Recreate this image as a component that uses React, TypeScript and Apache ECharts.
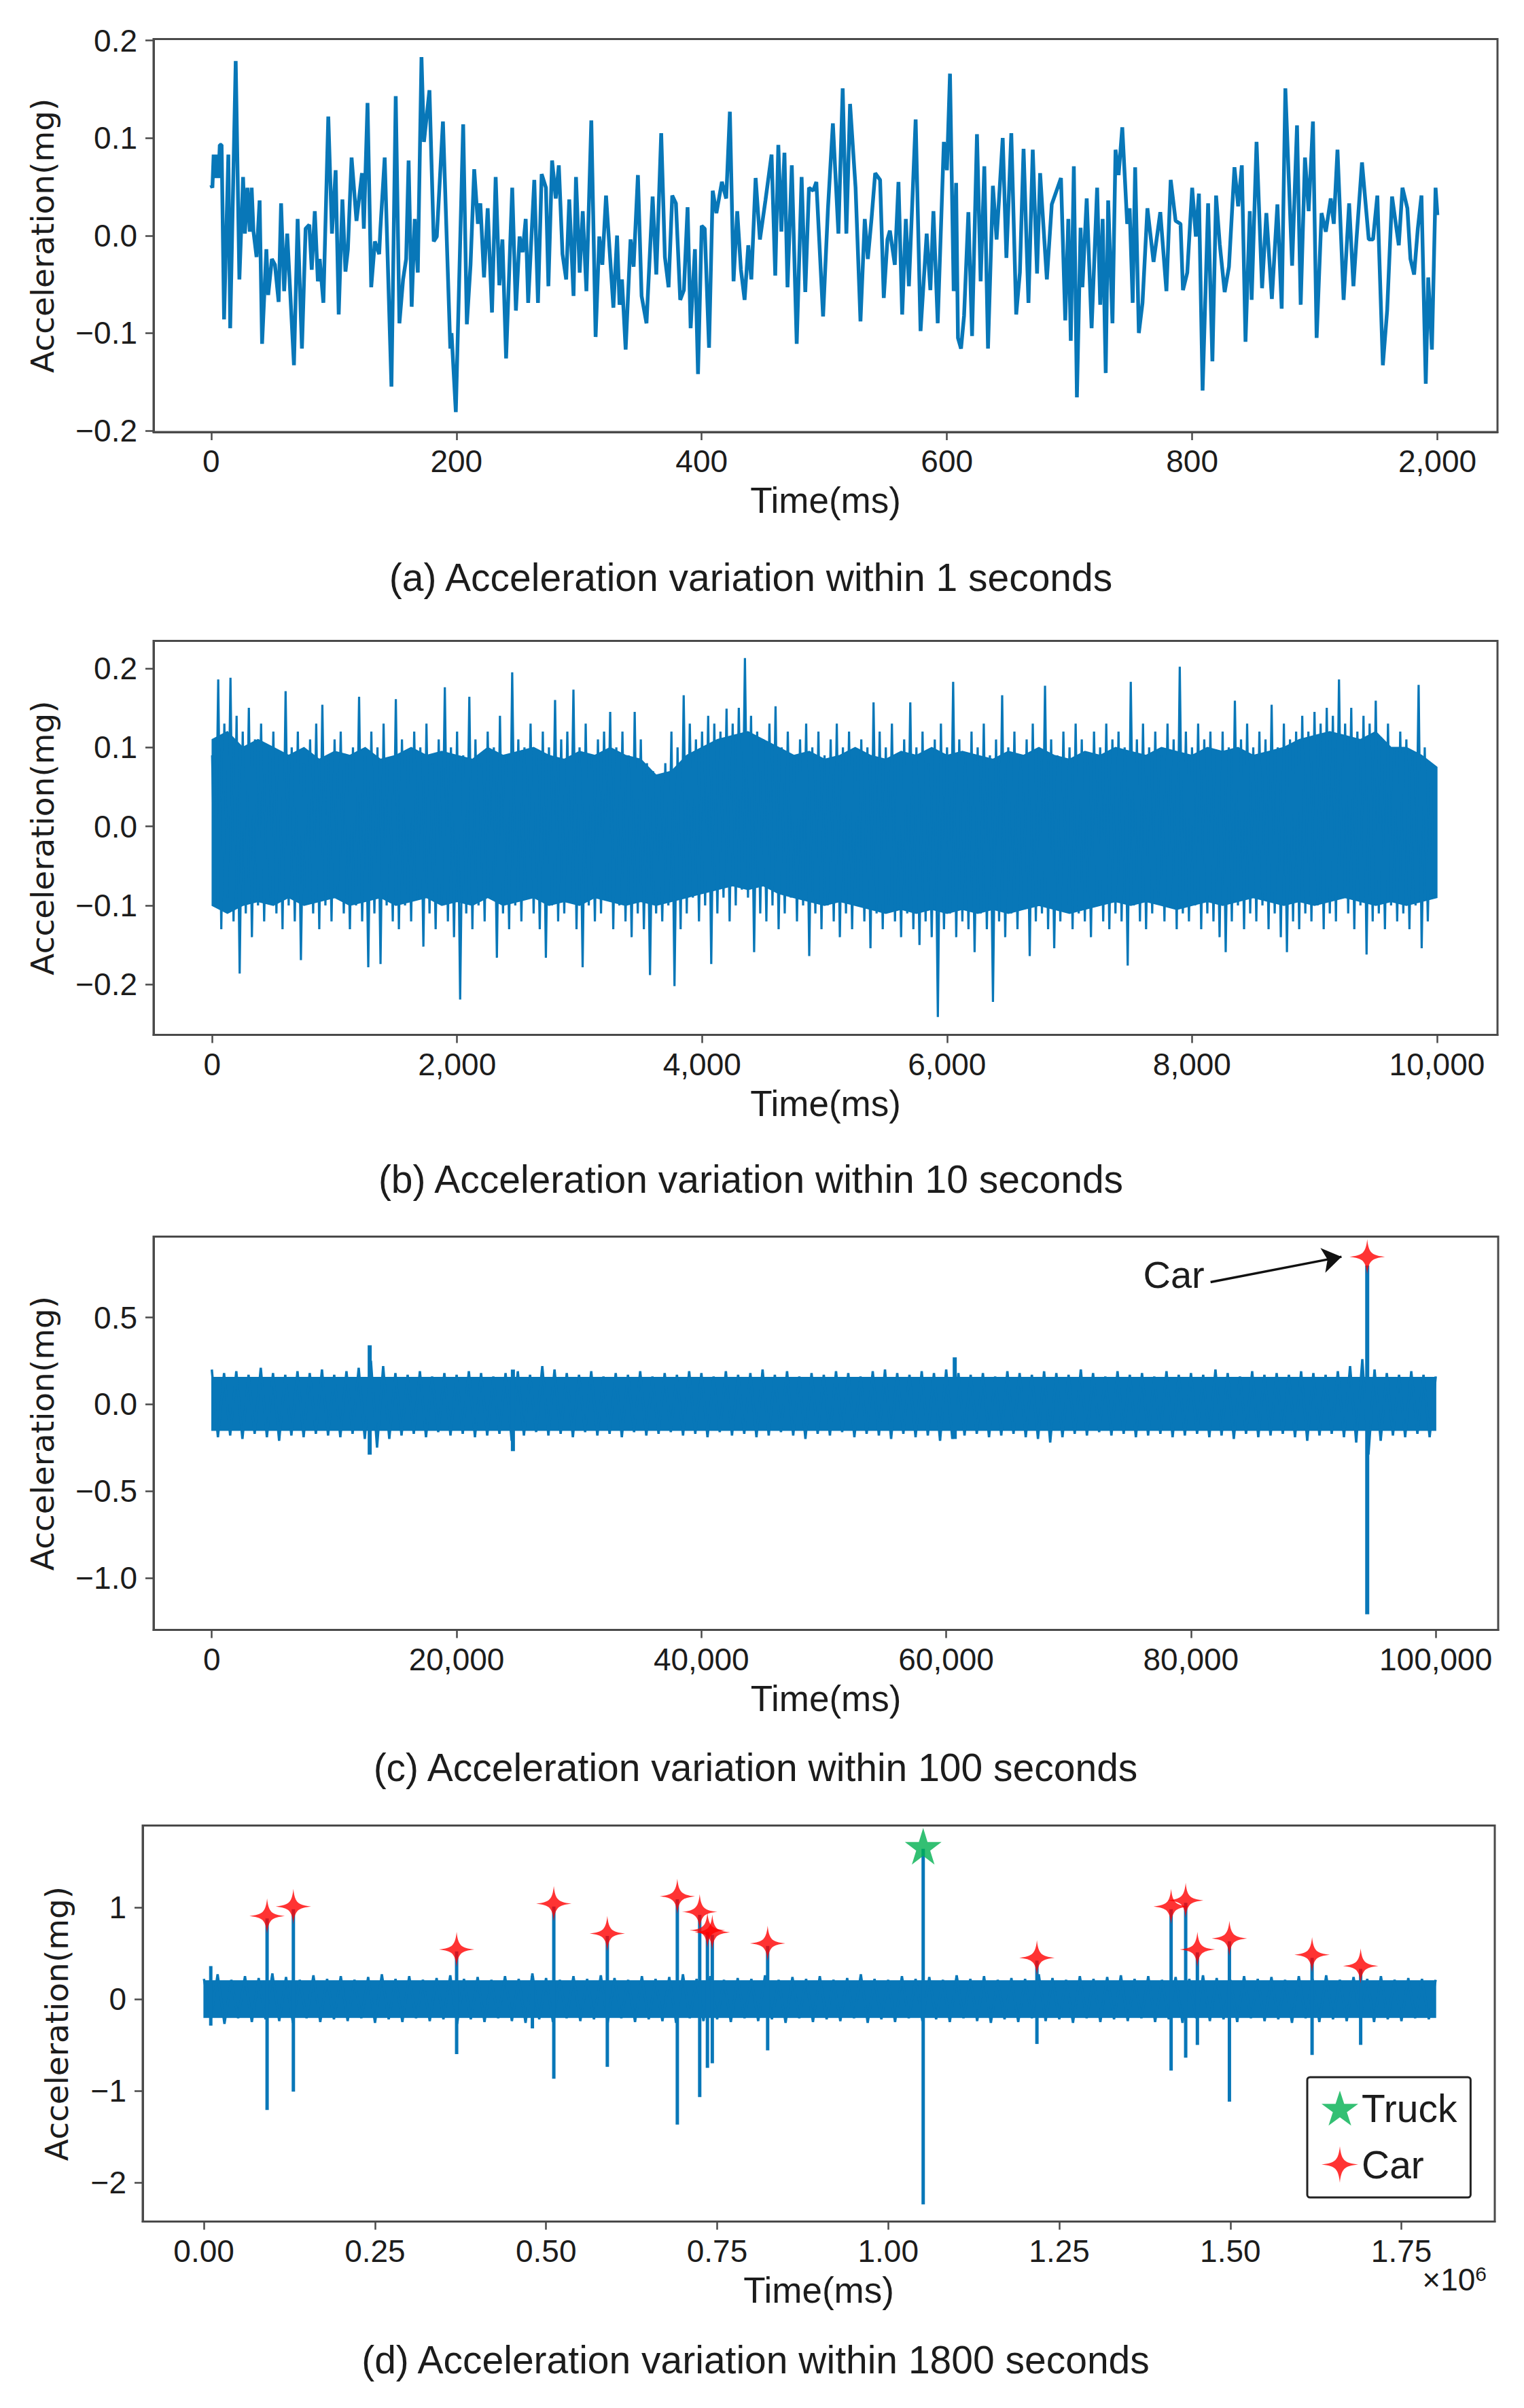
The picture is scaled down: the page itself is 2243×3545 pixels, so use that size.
import React, { useEffect, useRef } from "react";
import * as echarts from "echarts";

// ---------------- DATA ----------------
// (a) 1 s record: [time(ms), acceleration(mg)] vertices
const aSeries: number[][] = [
  [0,0.052],[2,0.049],[4,0.083],[7,0.059],[9,0.083],[12,0.059],[14,0.093],[17,0.093],[21,-0.086],[28,0.083],[31,-0.095],[40,0.179],[46,-0.045],[52,0.060],[55,0.002],[59,0.049],[63,0.004],[66,0.049],[69,0.004],[74,-0.022],[79,0.036],[83,-0.111],[90,-0.014],[93,-0.061],[99,-0.024],[104,-0.030],[110,-0.068],[114,0.033],[119,-0.057],[124,0.002],[135,-0.133],[141,0.017],[148,-0.116],[154,0.007],[160,0.011],[164,-0.035],[169,0.025],[174,-0.047],[177,-0.024],[183,-0.069],[191,0.122],[197,0.002],[203,0.067],[208,-0.081],[214,0.037],[219,-0.037],[223,-0.014],[229,0.080],[237,0.015],[246,0.064],[249,0.007],[255,0.136],[261,-0.053],[267,-0.006],[274,-0.019],[276,0.007],[283,0.080],[294,-0.155],[301,0.143],[307,-0.090],[313,-0.045],[318,-0.024],[322,0.077],[327,-0.073],[332,0.017],[337,-0.038],[343,0.183],[347,0.096],[356,0.149],[363,-0.006],[368,-0.001],[378,0.117],[390,-0.116],[392,-0.100],[399,-0.181],[411,0.114],[417,-0.091],[423,-0.030],[429,0.068],[435,0.012],[439,0.033],[445,-0.043],[451,0.028],[458,-0.079],[464,0.060],[470,-0.051],[475,-0.004],[481,-0.126],[491,0.049],[497,-0.077],[503,-0.001],[508,-0.017],[513,0.017],[517,-0.069],[527,0.057],[533,-0.069],[539,0.063],[546,0.049],[550,-0.052],[556,0.077],[562,0.038],[567,0.072],[573,-0.019],[579,-0.045],[584,0.037],[591,-0.062],[595,0.060],[601,-0.038],[606,0.025],[612,-0.057],[620,0.118],[627,-0.104],[633,-0.001],[638,-0.030],[644,0.041],
  [656,-0.074],[662,0.000],[666,-0.071],[670,-0.045],[676,-0.117],[684,-0.004],[689,-0.032],[696,0.062],[702,-0.062],[710,-0.090],[720,0.040],[726,-0.040],[734,0.105],[740,-0.022],[746,-0.053],[752,0.041],[758,0.033],[765,-0.066],[771,-0.056],[777,0.029],[782,-0.095],[789,-0.014],[794,-0.142],[800,0.010],[805,0.007],[812,-0.115],[818,0.046],[824,0.023],[833,0.055],[840,0.038],[846,0.127],[852,-0.047],[858,0.025],[864,-0.035],[870,-0.066],[876,-0.010],[881,-0.045],[888,0.059],[895,-0.004],[904,0.036],[914,0.083],[920,-0.041],[925,0.093],[930,0.004],[935,0.085],[940,-0.053],[947,0.072],[955,-0.111],[963,0.060],[969,-0.058],[975,0.049],[982,0.046],[987,0.055],[998,-0.083],[1006,0.028],[1014,0.115],[1023,0.002],[1030,0.151],[1036,0.002],[1042,0.135],[1051,0.049],[1059,-0.088],[1066,0.017],[1071,-0.024],[1077,0.017],[1083,0.064],[1091,0.057],[1097,-0.064],[1103,-0.004],[1107,0.005],[1115,-0.030],[1121,0.055],[1127,-0.081],[1133,0.017],[1138,-0.052],[1149,0.119],[1157,-0.098],[1167,0.002],[1173,-0.056],[1178,0.025],[1185,-0.090],[1195,0.096],[1200,0.067],[1205,0.166],[1211,-0.057],[1215,0.054],[1218,-0.105],[1223,-0.116],[1228,-0.082],[1235,0.024],[1241,-0.103],[1249,0.104],[1255,-0.047],[1261,0.071],[1267,-0.116],[1275,0.051],[1281,-0.004],[1291,0.100],[1297,-0.023],[1305,0.105],[1313,-0.081],[1319,-0.038],[1325,0.089],[1333,-0.069],[1340,0.088],[1347,-0.039],[1352,0.064],[1358,0.004],[1363,-0.045],[1371,0.032],
  [1386,0.059],[1393,-0.087],[1398,0.017],[1402,-0.108],[1407,0.071],[1412,-0.166],[1418,0.008],[1421,-0.053],[1428,0.038],[1436,-0.095],[1445,0.049],[1450,-0.071],[1454,0.017],[1459,-0.141],[1463,0.036],[1470,-0.090],[1475,0.088],[1480,0.062],[1486,0.111],[1494,0.012],[1498,0.028],[1503,-0.069],[1507,0.070],[1513,-0.100],[1519,-0.069],[1527,0.028],[1537,-0.027],[1548,0.024],[1558,-0.057],[1565,0.057],[1573,0.015],[1581,0.012],[1585,-0.056],[1592,-0.038],[1600,0.049],[1606,-0.001],[1611,0.043],[1617,-0.159],[1626,0.033],[1633,-0.129],[1639,0.041],[1645,-0.009],[1653,-0.058],[1660,-0.032],[1669,0.070],[1675,0.030],[1681,0.072],[1687,-0.109],[1694,0.025],[1697,-0.066],[1705,0.096],[1714,-0.054],[1721,0.023],[1730,-0.065],[1739,0.032],[1746,-0.075],[1752,0.151],[1763,-0.031],[1771,0.113],[1777,-0.071],[1784,0.080],[1790,0.025],[1797,0.117],[1803,-0.105],[1811,0.023],[1818,0.004],[1826,0.038],[1831,0.012],[1837,0.088],[1847,-0.066],[1856,0.033],[1863,-0.052],[1868,-0.004],[1877,0.075],[1888,-0.004],[1895,-0.004],[1902,0.041],[1911,-0.133],[1918,-0.077],[1926,0.040],[1937,-0.010],[1943,0.049],[1951,0.028],[1956,-0.024],[1962,-0.040],[1968,0.007],[1974,0.041],[1981,-0.152],[1985,-0.043],[1991,-0.117],[1997,0.049],[2000,0.021]
];

// (b) 10 s record: alternating local maxima / minima every 50 ms
const B_STEP = 50;
const B_END = 10000;
const upperB: number[] = [
  0.09,0.186,0.13,0.188,0.14,0.12,0.15,0.11,0.13,0.10,
  0.12,0.09,0.171,0.10,0.12,0.08,0.11,0.13,0.154,0.09,
  0.11,0.12,0.08,0.10,0.164,0.09,0.12,0.10,0.13,0.08,
  0.161,0.11,0.09,0.12,0.10,0.13,0.08,0.11,0.176,0.10,
  0.12,0.09,0.164,0.11,0.08,0.12,0.10,0.14,0.09,0.195,
  0.11,0.10,0.13,0.09,0.12,0.10,0.16,0.11,0.12,0.173,
  0.10,0.13,0.09,0.11,0.12,0.145,0.10,0.12,0.09,0.145,
  0.11,0.08,0.07,0.06,0.08,0.12,0.10,0.166,0.13,0.11,
  0.12,0.14,0.13,0.12,0.149,0.13,0.15,0.213,0.14,0.12,
  0.11,0.13,0.152,0.10,0.12,0.09,0.11,0.13,0.10,0.12,
  0.09,0.11,0.13,0.10,0.12,0.09,0.11,0.10,0.157,0.12,
  0.10,0.13,0.09,0.11,0.157,0.10,0.12,0.08,0.11,0.13,
  0.10,0.183,0.11,0.09,0.12,0.10,0.13,0.09,0.11,0.166,
  0.10,0.12,0.09,0.11,0.13,0.10,0.178,0.11,0.09,0.12,
  0.10,0.13,0.11,0.09,0.12,0.10,0.13,0.11,0.12,0.10,
  0.183,0.11,0.13,0.10,0.12,0.09,0.13,0.11,0.202,0.12,
  0.10,0.13,0.11,0.12,0.09,0.12,0.10,0.159,0.11,0.13,
  0.10,0.12,0.11,0.154,0.10,0.13,0.11,0.12,0.14,0.12,
  0.145,0.13,0.15,0.14,0.186,0.13,0.15,0.12,0.14,0.13,
  0.159,0.11,0.13,0.10,0.12,0.11,0.09,0.179,0.10,0.07
];
const lowerB: number[] = [
  -0.10,-0.13,-0.09,-0.12,-0.186,-0.11,-0.14,-0.10,-0.12,-0.09,
  -0.11,-0.13,-0.10,-0.12,-0.169,-0.09,-0.11,-0.13,-0.10,-0.12,
  -0.09,-0.11,-0.13,-0.10,-0.12,-0.178,-0.11,-0.174,-0.10,-0.12,
  -0.13,-0.10,-0.12,-0.09,-0.152,-0.11,-0.13,-0.10,-0.12,-0.14,
  -0.219,-0.11,-0.13,-0.10,-0.12,-0.09,-0.166,-0.11,-0.13,-0.10,
  -0.12,-0.09,-0.11,-0.13,-0.166,-0.10,-0.12,-0.11,-0.09,-0.13,
  -0.178,-0.10,-0.12,-0.11,-0.09,-0.13,-0.10,-0.12,-0.14,-0.11,
  -0.13,-0.188,-0.11,-0.12,-0.10,-0.202,-0.13,-0.11,-0.09,-0.12,
  -0.10,-0.174,-0.11,-0.09,-0.12,-0.10,-0.08,-0.09,-0.159,-0.11,
  -0.12,-0.10,-0.13,-0.11,-0.09,-0.12,-0.10,-0.164,-0.11,-0.13,
  -0.10,-0.12,-0.14,-0.11,-0.13,-0.10,-0.12,-0.154,-0.11,-0.13,
  -0.10,-0.12,-0.14,-0.11,-0.13,-0.15,-0.12,-0.14,-0.241,-0.13,
  -0.11,-0.14,-0.12,-0.13,-0.159,-0.11,-0.13,-0.222,-0.12,-0.14,
  -0.11,-0.13,-0.10,-0.164,-0.12,-0.11,-0.13,-0.154,-0.12,-0.10,
  -0.13,-0.11,-0.12,-0.14,-0.10,-0.12,-0.13,-0.11,-0.12,-0.176,
  -0.10,-0.12,-0.13,-0.11,-0.09,-0.12,-0.10,-0.13,-0.11,-0.12,
  -0.10,-0.13,-0.11,-0.12,-0.14,-0.159,-0.12,-0.10,-0.13,-0.11,
  -0.12,-0.10,-0.13,-0.11,-0.14,-0.159,-0.12,-0.13,-0.11,-0.12,
  -0.10,-0.13,-0.11,-0.12,-0.09,-0.11,-0.13,-0.10,-0.162,-0.12,
  -0.11,-0.13,-0.10,-0.12,-0.11,-0.13,-0.10,-0.154,-0.12,-0.09
];
// (b) dense core of the trace, every 125 ms
const B_CORE_STEP = 125;
const coreUpperB: number[] = [
  0.11,0.12,0.10,0.11,0.10,
  0.09,0.10,0.085,0.095,0.09,0.10,0.085,0.09,0.10,0.09,0.095,
  0.09,0.085,0.10,0.09,0.095,0.10,0.09,0.085,0.095,0.09,0.10,0.09,0.085,
  0.065,0.07,
  0.09,0.10,0.11,0.115,0.12,0.11,0.10,
  0.09,0.095,0.085,0.09,0.10,0.09,0.085,0.095,0.09,0.10,0.09,0.095,0.09,
  0.085,0.095,0.09,0.10,0.09,0.085,0.095,0.09,0.10,0.095,0.09,0.10,0.095,0.09,0.10,0.095,0.10,0.09,0.095,0.10,
  0.11,0.115,0.12,0.115,0.11,0.12,0.10,
  0.10,0.09,0.075
];
const coreLowerB: number[] = [
  -0.10,-0.11,-0.10,-0.095,-0.10,
  -0.09,-0.10,-0.095,-0.09,-0.10,-0.095,-0.09,-0.10,-0.095,-0.09,-0.10,
  -0.095,-0.10,-0.09,-0.10,-0.095,-0.09,-0.10,-0.095,-0.10,-0.09,-0.095,-0.10,-0.095,
  -0.10,-0.095,
  -0.09,-0.085,-0.08,-0.075,-0.08,-0.075,-0.085,
  -0.09,-0.095,-0.10,-0.095,-0.10,-0.105,-0.11,-0.105,-0.11,-0.105,-0.11,-0.105,-0.11,
  -0.105,-0.11,-0.105,-0.10,-0.105,-0.11,-0.105,-0.10,-0.095,-0.10,-0.095,-0.10,-0.105,-0.10,-0.095,-0.10,-0.095,-0.09,-0.095,-0.10,
  -0.095,-0.10,-0.095,-0.09,-0.095,-0.10,-0.095,
  -0.10,-0.095,-0.09
];

// (c) 100 s record: solid core + local extremes every 1000 ms
const C_STEP = 1000;
const C_END = 100000;
const cCoreTimes = [0, 100000];
const cCoreUpper = [0.155, 0.155];
const cCoreLower = [-0.15, -0.15];
const upperC: number[] = [
  0.20,0.18,0.19,0.17,0.21,0.18,0.17,0.19,0.18,0.20,
  0.17,0.19,0.21,0.25,0.22,0.18,0.17,0.19,0.16,0.18,
  0.17,0.19,0.18,0.16,0.18,0.19,0.17,0.22,0.20,0.18,
  0.17,0.19,0.16,0.18,0.17,0.19,0.16,0.18,0.17,0.19,
  0.18,0.16,0.19,0.17,0.18,0.20,0.17,0.19,0.16,0.18,
  0.17,0.19,0.18,0.16,0.19,0.20,0.18,0.17,0.19,0.18,
  0.20,0.18,0.17,0.18,0.16,0.19,0.18,0.17,0.19,0.18,
  0.17,0.20,0.18,0.16,0.19,0.17,0.18,0.16,0.19,0.17,
  0.18,0.17,0.20,0.18,0.16,0.19,0.17,0.18,0.17,0.19,
  0.18,0.17,0.19,0.22,0.26,0.20,0.18,0.17,0.19,0.17,0.16
];
const lowerC: number[] = [
  -0.19,-0.18,-0.20,-0.17,-0.19,-0.21,-0.18,-0.19,-0.17,-0.18,
  -0.19,-0.17,-0.20,-0.25,-0.20,-0.18,-0.17,-0.19,-0.16,-0.18,
  -0.17,-0.19,-0.18,-0.17,-0.21,-0.18,-0.16,-0.18,-0.17,-0.19,
  -0.16,-0.18,-0.17,-0.19,-0.16,-0.18,-0.17,-0.16,-0.18,-0.17,
  -0.19,-0.16,-0.18,-0.17,-0.19,-0.18,-0.16,-0.18,-0.20,-0.17,
  -0.18,-0.16,-0.19,-0.17,-0.18,-0.20,-0.17,-0.19,-0.18,-0.21,
  -0.20,-0.18,-0.17,-0.19,-0.18,-0.17,-0.19,-0.20,-0.22,-0.19,
  -0.17,-0.18,-0.16,-0.18,-0.17,-0.19,-0.18,-0.17,-0.19,-0.18,
  -0.17,-0.19,-0.18,-0.20,-0.17,-0.19,-0.18,-0.17,-0.19,-0.21,
  -0.18,-0.17,-0.19,-0.22,-0.29,-0.21,-0.18,-0.19,-0.17,-0.19,-0.18
];
// (c) isolated spikes: [time, max, min]
const cSpikes: number[][] = [[12900,0.34,-0.29],[24600,0.20,-0.27],[60700,0.27,-0.20],[94400,0.80,-1.21]];
const cCar: number[][] = [[94400,0.85]];

// (d) 1800 s record: solid core + local extremes every 20000 ms
const D_STEP = 20000;
const D_END = 1800000;
const dCoreTimes = [0, 1800000];
const dCoreUpper = [0.20, 0.20];
const dCoreLower = [-0.20, -0.20];
const upperD: number[] = [
  0.22,0.27,0.21,0.25,0.23,0.28,0.24,0.21,0.26,0.22,
  0.25,0.21,0.24,0.27,0.22,0.25,0.21,0.23,0.26,0.22,
  0.24,0.21,0.25,0.22,0.28,0.23,0.21,0.25,0.22,0.26,
  0.23,0.21,0.25,0.22,0.24,0.27,0.22,0.25,0.21,0.23,
  0.22,0.26,0.21,0.24,0.22,0.25,0.21,0.23,0.27,0.22,
  0.21,0.25,0.22,0.24,0.21,0.26,0.22,0.25,0.21,0.23,
  0.22,0.27,0.23,0.21,0.25,0.22,0.24,0.26,0.22,0.25,
  0.21,0.24,0.22,0.26,0.23,0.21,0.25,0.22,0.24,0.21,
  0.25,0.22,0.26,0.21,0.24,0.22,0.25,0.21,0.23,0.22,0.21
];
const lowerD: number[] = [
  -0.22,-0.27,-0.21,-0.25,-0.22,-0.24,-0.26,-0.21,-0.25,-0.22,
  -0.24,-0.21,-0.26,-0.22,-0.25,-0.21,-0.24,-0.22,-0.27,-0.22,
  -0.25,-0.21,-0.24,-0.26,-0.22,-0.25,-0.21,-0.24,-0.22,-0.26,
  -0.21,-0.25,-0.22,-0.24,-0.26,-0.21,-0.24,-0.22,-0.25,-0.21,
  -0.24,-0.22,-0.26,-0.21,-0.25,-0.22,-0.24,-0.21,-0.26,-0.22,
  -0.25,-0.21,-0.24,-0.22,-0.25,-0.21,-0.24,-0.26,-0.22,-0.25,
  -0.21,-0.24,-0.22,-0.26,-0.21,-0.25,-0.22,-0.24,-0.21,-0.25,
  -0.22,-0.26,-0.21,-0.24,-0.22,-0.25,-0.21,-0.24,-0.22,-0.26,
  -0.21,-0.25,-0.22,-0.24,-0.21,-0.25,-0.22,-0.24,-0.21,-0.22,-0.21
];
// (d) vehicle spikes: [time, max, min]
const dSpikes: number[][] = [
  [10000,0.36,-0.29],[92300,0.88,-1.21],[130700,0.98,-1.01],[369300,0.52,-0.60],[480000,0.25,-0.32],
  [511300,1.01,-0.87],[589500,0.69,-0.74],[691800,1.09,-1.37],[724500,0.92,-1.07],[735800,0.73,-0.75],
  [742900,0.70,-0.70],[823800,0.58,-0.56],[1051100,1.64,-2.24],[1217300,0.42,-0.49],[1413400,0.98,-0.78],
  [1434700,1.05,-0.64],[1451800,0.51,-0.50],[1498600,0.63,-1.12],[1619400,0.45,-0.61],[1690400,0.33,-0.50]
];
const dTruck: number[][] = [[1051100,1.667]];
const dCars: number[][] = [
  [92300,0.907],[130700,1.010],[369300,0.541],[511300,1.041],[589500,0.715],[691800,1.121],[724500,0.952],
  [735800,0.751],[742900,0.729],[823800,0.608],[1217300,0.451],[1413400,1.010],[1434700,1.077],
  [1451800,0.541],[1498600,0.661],[1619400,0.483],[1690400,0.362]
];

// ticks & labels
const aXTicks = [0, 400, 800, 1200, 1600, 2000];
const aXLabels = ["0", "200", "400", "600", "800", "2,000"];
const abYTicks = [-0.2, -0.1, 0, 0.1, 0.2];
const abYLabels = ["\u22120.2", "\u22120.1", "0.0", "0.1", "0.2"];
const bXTicks = [0, 2000, 4000, 6000, 8000, 10000];
const bXLabels = ["0", "2,000", "4,000", "6,000", "8,000", "10,000"];
const cXTicks = [0, 20000, 40000, 60000, 80000, 100000];
const cXLabels = ["0", "20,000", "40,000", "60,000", "80,000", "100,000"];
const cYTicks = [-1, -0.5, 0, 0.5];
const cYLabels = ["\u22121.0", "\u22120.5", "0.0", "0.5"];
const dXTicks = [0, 250000, 500000, 750000, 1000000, 1250000, 1500000, 1750000];
const dXLabels = ["0.00", "0.25", "0.50", "0.75", "1.00", "1.25", "1.50", "1.75"];
const dYTicks = [-2, -1, 0, 1];
const dYLabels = ["\u22122", "\u22121", "0", "1"];

const captions = [
  "(a) Acceleration variation within 1 seconds",
  "(b) Acceleration variation within 10 seconds",
  "(c) Acceleration variation within 100 seconds",
  "(d) Acceleration variation within 1800 seconds",
];

// ---------------- STYLE ----------------
const BLUE = "#0877b8";
const FRAME = "#4a4a4a";
const TEXT = "#1c1c1c";
const SANS = "'Liberation Sans', Arial, sans-serif";
const WIDE = "'DejaVu Sans', Verdana, sans-serif";
const CAR_PATH = "path://M50,0 C54,38 62,46 100,50 C62,54 54,62 50,100 C46,62 38,54 0,50 C38,46 46,38 50,0 Z";
const TRUCK_PATH = "path://M50,0 L61.8,36.2 L100,36.2 L69.1,58.8 L80.9,95.1 L50,72.6 L19.1,95.1 L30.9,58.8 L0,36.2 L38.2,36.2 Z";

const labelFor = (ticks: number[], labels: string[]) => (v: number) => {
  const i = ticks.findIndex((t) => Math.abs(t - v) <= 1e-9 * Math.max(1, Math.abs(t)));
  return i >= 0 ? labels[i] : "";
};

function xAxisCfg(gridIndex: number, min: number, max: number, ticks: number[], labels: string[]) {
  return {
    type: "value", gridIndex, min, max,
    axisLine: { show: true, onZero: false, lineStyle: { color: FRAME, width: 3 } },
    axisTick: { show: true, inside: false, length: 12, customValues: ticks, lineStyle: { color: FRAME, width: 2.5 } },
    axisLabel: { customValues: ticks, formatter: labelFor(ticks, labels), margin: 20, fontSize: 46, fontFamily: SANS, color: TEXT },
    splitLine: { show: false },
    name: "Time(ms)", nameLocation: "middle", nameGap: 74,
    nameTextStyle: { fontSize: 53, fontFamily: SANS, color: TEXT },
  };
}
function yAxisCfg(gridIndex: number, min: number, max: number, ticks: number[], labels: string[], nameGap: number) {
  return {
    type: "value", gridIndex, min, max,
    axisLine: { show: true, onZero: false, lineStyle: { color: FRAME, width: 3 } },
    axisTick: { show: true, inside: false, length: 12, customValues: ticks, lineStyle: { color: FRAME, width: 2.5 } },
    axisLabel: { customValues: ticks, formatter: labelFor(ticks, labels), margin: 24, fontSize: 46, fontFamily: SANS, color: TEXT },
    splitLine: { show: false },
    name: "Acceleration(mg)", nameLocation: "middle", nameGap,
    nameTextStyle: { fontSize: 47, fontFamily: WIDE, color: TEXT },
  };
}

function bandSeries(idx: number, times: number[], upper: number[], lower: number[]) {
  return {
    type: "custom", xAxisIndex: idx, yAxisIndex: idx, silent: true, clip: true, z: 2,
    data: [[times[0], 0]],
    encode: { x: 0, y: 1 },
    renderItem: (_p: any, api: any) => {
      const pts: number[][] = [];
      for (let i = 0; i < upper.length; i++) pts.push(api.coord([times[i], upper[i]]));
      for (let i = lower.length - 1; i >= 0; i--) pts.push(api.coord([times[i], lower[i]]));
      return { type: "polygon", shape: { points: pts }, style: { fill: BLUE, stroke: BLUE, lineWidth: 1.5 } };
    },
  };
}
function zigSeries(idx: number, step: number, end: number, upper: number[], lower: number[], width: number) {
  const data: number[][] = [];
  for (let i = 0; i < upper.length; i++) {
    data.push([i * step, upper[i]]);
    const tl = i * step + step / 2;
    if (i < lower.length && tl <= end) data.push([tl, lower[i]]);
  }
  return {
    type: "line", xAxisIndex: idx, yAxisIndex: idx, data, symbol: "none", showSymbol: false,
    lineStyle: { color: BLUE, width }, itemStyle: { color: BLUE }, silent: true, clip: true, z: 3,
  };
}
function spikeSeries(idx: number, spikes: number[][], width: number) {
  return {
    type: "custom", xAxisIndex: idx, yAxisIndex: idx, silent: true, clip: true, z: 4,
    data: spikes,
    encode: { x: 0, y: [1, 2] },
    renderItem: (_p: any, api: any) => {
      const t = api.value(0);
      const p1 = api.coord([t, api.value(1)]);
      const p2 = api.coord([t, api.value(2)]);
      return { type: "line", shape: { x1: p1[0], y1: p1[1], x2: p2[0], y2: p2[1] }, style: { stroke: BLUE, lineWidth: width } };
    },
  };
}

export default function App() {
  const ref = useRef<HTMLDivElement>(null);
  useEffect(() => {
    if (!ref.current) return;
    const chart = echarts.init(ref.current, undefined, { renderer: "svg" });

    const bCoreTimes = coreUpperB.map((_, i) => i * B_CORE_STEP);
    const gridBase = { show: true, borderColor: FRAME, borderWidth: 3, backgroundColor: "transparent" };
    const captionY = [850, 1736, 2602, 3474];
    const captionX = [1105, 1105, 1112, 1112];

    const option: any = {
      animation: false,
      backgroundColor: "#ffffff",
      grid: [
        { ...gridBase, left: 226, top: 57.5, width: 1978, height: 578.5 },
        { ...gridBase, left: 226, top: 943.5, width: 1978, height: 580 },
        { ...gridBase, left: 226, top: 1820.5, width: 1979, height: 579 },
        { ...gridBase, left: 210, top: 2687.5, width: 1990, height: 583 },
      ],
      xAxis: [
        xAxisCfg(0, -94, 2098, aXTicks, aXLabels),
        xAxisCfg(1, -478, 10494, bXTicks, bXLabels),
        xAxisCfg(2, -4760, 105100, cXTicks, cXLabels),
        xAxisCfg(3, -89500, 1886400, dXTicks, dXLabels),
      ],
      yAxis: [
        yAxisCfg(0, -0.2015, 0.2015, abYTicks, abYLabels, 140),
        yAxisCfg(1, -0.2636, 0.2347, abYTicks, abYLabels, 140),
        yAxisCfg(2, -1.3, 0.966, cYTicks, cYLabels, 140),
        yAxisCfg(3, -2.428, 1.894, dYTicks, dYLabels, 103),
      ],
      legend: {
        data: [
          { name: "Truck", icon: TRUCK_PATH },
          { name: "Car", icon: CAR_PATH },
        ],
        orient: "vertical", left: 1924, top: 3058,
        padding: [17, 20, 20, 21], itemGap: 26, itemWidth: 54, itemHeight: 54,
        borderColor: "#222", borderWidth: 3, borderRadius: 4, backgroundColor: "#ffffff",
        textStyle: { fontSize: 57, fontFamily: SANS, color: TEXT },
        selectedMode: false,
      },
      graphic: [
        ...captions.map((c, i) => ({
          type: "text", x: captionX[i], y: captionY[i], silent: true,
          style: { text: c, fontSize: 57, fontFamily: SANS, fill: TEXT, textAlign: "center", textVerticalAlign: "middle", align: "center", verticalAlign: "middle" },
        })),
        {
          type: "text", x: 2188, y: 3356, silent: true,
          style: {
            text: "{a|\u00d710}{b|6}", textAlign: "right", textVerticalAlign: "middle", align: "right", verticalAlign: "middle",
            rich: {
              a: { fontSize: 46, fontFamily: SANS, fill: TEXT, color: TEXT },
              b: { fontSize: 30, fontFamily: SANS, fill: TEXT, color: TEXT, verticalAlign: "top", padding: [0, 0, 18, 0] },
            },
          },
        },
      ],
      series: [
        {
          type: "line", xAxisIndex: 0, yAxisIndex: 0, data: aSeries, symbol: "none", showSymbol: false,
          lineStyle: { color: BLUE, width: 5.5 }, itemStyle: { color: BLUE }, silent: true, clip: true,
        },
        bandSeries(1, bCoreTimes, coreUpperB, coreLowerB),
        zigSeries(1, B_STEP, B_END, upperB, lowerB, 3.2),
        bandSeries(2, cCoreTimes, cCoreUpper, cCoreLower),
        zigSeries(2, C_STEP, C_END, upperC, lowerC, 3.5),
        spikeSeries(2, cSpikes, 6),
        {
          type: "scatter", name: "CarC", xAxisIndex: 2, yAxisIndex: 2, data: cCar,
          symbol: CAR_PATH, symbolSize: 52, itemStyle: { color: "#ff0000" }, z: 10, silent: true,
          markLine: {
            silent: true, symbol: ["none", "arrow"], symbolSize: 28, z: 12,
            lineStyle: { color: "#111", width: 3.5, type: "solid" },
            label: { show: false },
            data: [[{ coord: [81600, 0.704] }, { coord: [92300, 0.850] }]],
          },
          markPoint: {
            silent: true, symbol: "rect", symbolSize: 1, itemStyle: { color: "rgba(0,0,0,0)" },
            label: { show: true, formatter: "Car", position: "inside", fontSize: 56, fontFamily: SANS, color: TEXT },
            data: [{ coord: [78600, 0.745] }],
          },
        },
        bandSeries(3, dCoreTimes, dCoreUpper, dCoreLower),
        zigSeries(3, D_STEP, D_END, upperD, lowerD, 3.5),
        spikeSeries(3, dSpikes, 5),
        {
          type: "scatter", name: "Truck", xAxisIndex: 3, yAxisIndex: 3, data: dTruck,
          symbol: TRUCK_PATH, symbolSize: 54, itemStyle: { color: "#00b050" }, z: 10, silent: true,
        },
        {
          type: "scatter", name: "Car", xAxisIndex: 3, yAxisIndex: 3, data: dCars,
          symbol: CAR_PATH, symbolSize: 52, itemStyle: { color: "#ff0000" }, z: 10, silent: true,
        },
      ],
    };
    chart.setOption(option);
    return () => chart.dispose();
  }, []);
  return (
    <div
      ref={ref}
      style={{ position: "absolute", left: 0, top: 0, width: 2243, height: 3545, background: "#fff" }}
    />
  );
}
